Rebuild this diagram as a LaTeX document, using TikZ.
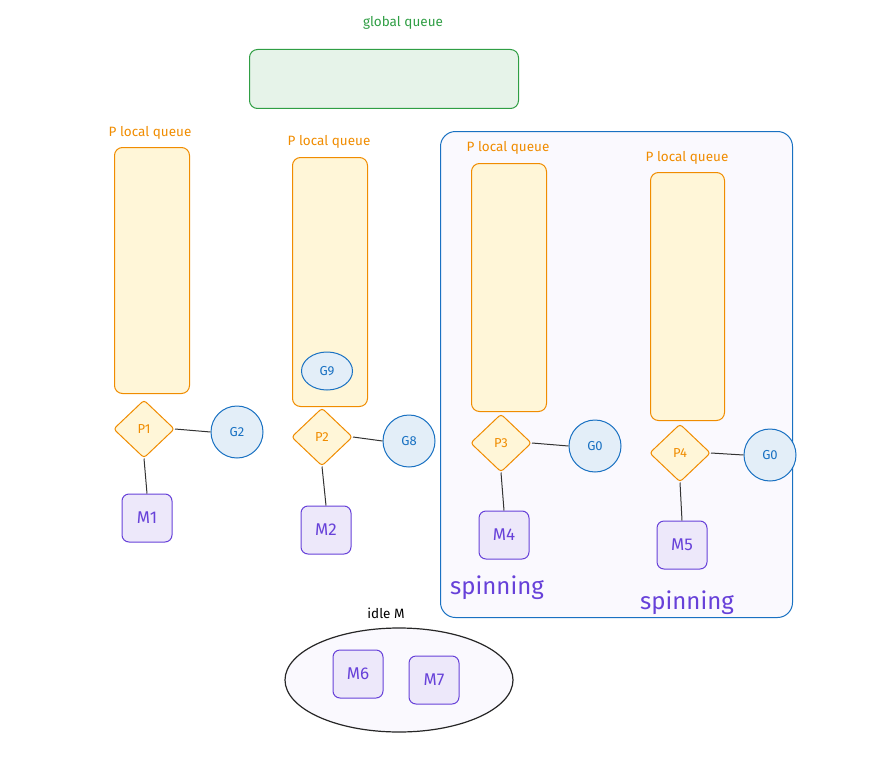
\documentclass[tikz,border=0pt]{standalone}
\usepackage{fontspec}
\setmainfont{Fira Sans}
\usetikzlibrary{shapes.geometric}
\definecolor{cor}{HTML}{F08C00}
\definecolor{cgr}{HTML}{2F9E44}
\definecolor{cbl}{HTML}{1971C2}
\definecolor{cpu}{HTML}{6741D9}
\definecolor{fyel}{HTML}{FFF6D8}
\tikzset{
  qbox/.style={draw=cor, fill=fyel, rounded corners=8pt, line width=1pt, minimum width=75pt, anchor=north west},
  plab/.style={text=cor, font=\fontsize{13.5}{16}\selectfont},
  pdia/.style={diamond, draw=cor, fill=fyel, line width=1pt, minimum width=61pt, minimum height=58pt, inner sep=0pt, text=cor, font=\fontsize{13}{15}\selectfont, rounded corners=3pt},
  gcir/.style={circle, draw=cbl, fill=cbl!12, line width=1pt, minimum size=52pt, inner sep=0pt, text=cbl, font=\fontsize{13}{15}\selectfont},
  mbox/.style={draw=cpu, fill=cpu!12, rounded corners=7pt, line width=1pt, minimum width=50pt, minimum height=48pt, text=cpu, font=\fontsize{17}{20}\selectfont},
  link/.style={draw=black!80, line width=1pt},
  spin/.style={text=cpu, font=\fontsize{24}{28}\selectfont}
}
\begin{document}
\begin{tikzpicture}[x=1pt,y=-1pt]
\useasboundingbox (0,0) rectangle (888,765);
% container
\node[draw=cbl, fill=cpu!3, rounded corners=15pt, line width=1pt, minimum width=352pt, minimum height=486pt, anchor=north west] (cont) at (440,131) {};
% global queue
\node[text=cgr, font=\fontsize{13.5}{16}\selectfont] (glab) at (403,23) {global queue};
\node[draw=cgr, fill=cgr!12, rounded corners=8pt, line width=1pt, minimum width=269pt, minimum height=59pt, anchor=north west] (gq) at (249,49) {};
% labels
\node[plab] (l1) at (150,133) {P local queue};
\node[plab] (l2) at (329,142) {P local queue};
\node[plab] (l3) at (508,148) {P local queue};
\node[plab] (l4) at (687,158) {P local queue};
% queues
\node[qbox, minimum height=246pt] (q1) at (114,147) {};
\node[qbox, minimum height=249pt] (q2) at (292,157) {};
\node[qbox, minimum height=248pt] (q3) at (471,163) {};
\node[qbox, minimum height=248pt, minimum width=74pt] (q4) at (650,172) {};
% G9
\node[ellipse, draw=cbl, fill=cbl!12, line width=1pt, minimum width=51pt, minimum height=38pt, inner sep=0pt, text=cbl, font=\fontsize{13}{15}\selectfont] (g9) at (327,371) {G9};
% P diamonds
\node[pdia] (p1) at (144,429) {P1};
\node[pdia] (p2) at (322,437) {P2};
\node[pdia] (p3) at (501,443) {P3};
\node[pdia] (p4) at (680,453) {P4};
% G circles
\node[gcir] (g2) at (237,432) {G2};
\node[gcir] (g8) at (409,441) {G8};
\node[gcir] (g0a) at (595,446) {G0};
\node[gcir] (g0b) at (770,455) {G0};
% M boxes
\node[mbox] (m1) at (147,518) {M1};
\node[mbox] (m2) at (326,530) {M2};
\node[mbox] (m4) at (504,535) {M4};
\node[mbox] (m5) at (682,545) {M5};
% links
\draw[link] (p1.east) -- (g2.west);
\draw[link] (p2.east) -- (g8.west);
\draw[link] (p3.east) -- (g0a.west);
\draw[link] (p4.east) -- (g0b.west);
\draw[link] (p1.south) -- (m1.north);
\draw[link] (p2.south) -- (m2.north);
\draw[link] (p3.south) -- (m4.north);
\draw[link] (p4.south) -- (m5.north);
% spinning
\node[spin] (s1) at (497,588) {spinning};
\node[spin] (s2) at (687,603) {spinning};
% idle M
\node[font=\fontsize{13.5}{16}\selectfont] (ilab) at (386,613) {idle M};
\node[ellipse, draw=black!85, fill=cpu!3, line width=1.2pt, minimum width=228pt, minimum height=104pt] (idle) at (399,680) {};
\node[mbox] (m6) at (358,674) {M6};
\node[mbox] (m7) at (434,680) {M7};
\end{tikzpicture}
\end{document}
